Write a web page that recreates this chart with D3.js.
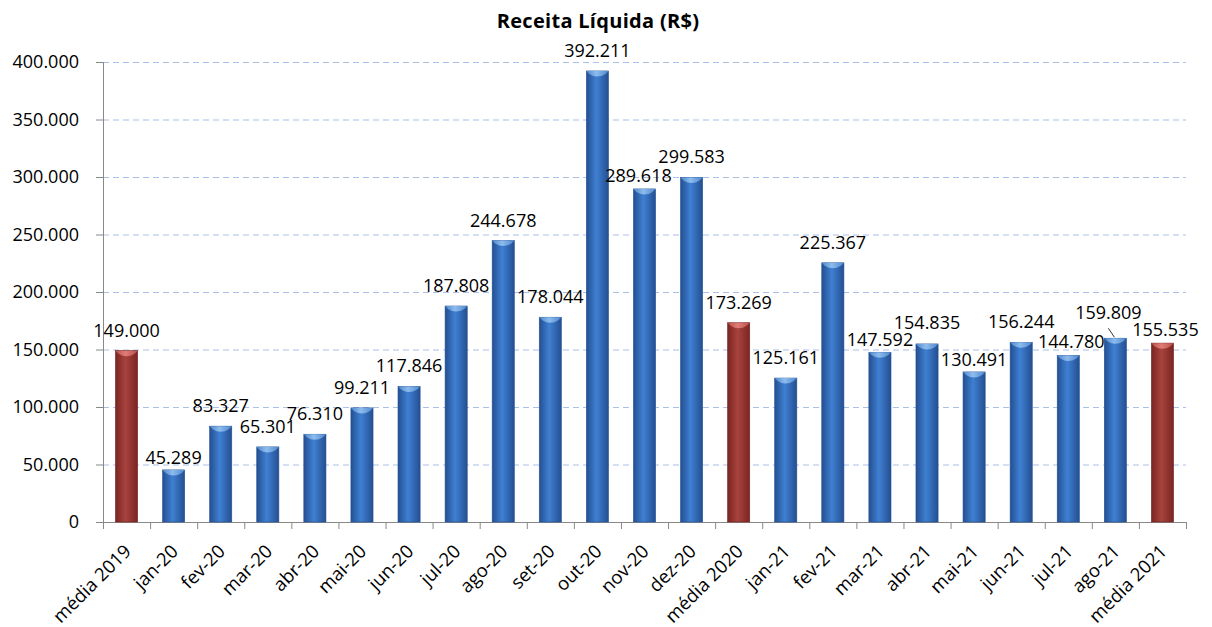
<!DOCTYPE html>
<html>
<head>
<meta charset="utf-8">
<script src="https://cdn.jsdelivr.net/npm/d3@7"></script>
<style>
  body { margin: 0; background: #fff; }
  text { font-family: "Open Sans", "Noto Sans", sans-serif; fill: #000; }
</style>
</head>
<body>
<div id="chart"></div>
<script>
var width = 1212;
var height = 627;

// data
var categories = ["média 2019", "jan-20", "fev-20", "mar-20", "abr-20", "mai-20", "jun-20",
    "jul-20", "ago-20", "set-20", "out-20", "nov-20", "dez-20", "média 2020",
    "jan-21", "fev-21", "mar-21", "abr-21", "mai-21", "jun-21", "jul-21", "ago-21", "média 2021"];
var values = [149000, 45289, 83327, 65301, 76310, 99211, 117846,
    187808, 244678, 178044, 392211, 289618, 299583, 173269,
    125161, 225367, 147592, 154835, 130491, 156244, 144780, 159809, 155535];
var isAverage = [true, false, false, false, false, false, false,
    false, false, false, false, false, false, true,
    false, false, false, false, false, false, false, false, true];
var yTicks = [0, 50000, 100000, 150000, 200000, 250000, 300000, 350000, 400000];

// label nudges (dx, dy) where the original labels were moved to avoid overlap
var labelShift = [[0,0],[0,8],[0,0],[0,0],[0,0],[0,0],[0,0],
    [0,0],[0,0],[0,0],[0,0],[-6,7],[0,0],[0,0],
    [0,0],[0,0],[0,8],[0,-1],[0,8],[0,0],[3,6],[-7,-5],[3,7]];

var margin = {top: 62, left: 103, right: 26, bottom: 105};

var svg = d3.select("#chart")
    .append("svg")
    .attr("width", width)
    .attr("height", height);

var defs = svg.append("defs");

function barGradient(id, edge, mid){
    var g = defs.append("linearGradient")
        .attr("id", id)
        .attr("x1", "0%").attr("x2", "100%")
        .attr("y1", "0%").attr("y2", "0%");
    g.append("stop").attr("offset", "0%").attr("stop-color", edge);
    g.append("stop").attr("offset", "45%").attr("stop-color", mid);
    g.append("stop").attr("offset", "100%").attr("stop-color", edge);
}
barGradient("blueGrad", "#244f92", "#3f80d2");
barGradient("redGrad", "#7a2522", "#a8433e");
barGradient("blueCap", "#4f88cc", "#8dbcee");
barGradient("redCap", "#b8504b", "#e07c76");

var x = d3.scaleBand()
    .domain(categories)
    .range([margin.left, width - margin.right])
    .paddingInner(0.53)
    .paddingOuter(0.265);

var xTicks = d3.scaleBand()
    .domain(categories)
    .range([margin.left, width - margin.right]);

var y = d3.scaleLinear()
    .domain([0, 400000])
    .range([height - margin.bottom, margin.top]);

var fmt = function(v){ return d3.format(",")(v).replace(/,/g, "."); };

// title
svg.append("text")
    .attr("x", 598)
    .attr("y", 28)
    .attr("text-anchor", "middle")
    .style("font-size", "20px")
    .style("font-weight", "bold")
    .style("letter-spacing", "0.3px")
    .text("Receita Líquida (R$)");

// gridlines
svg.append("g")
    .selectAll("line")
    .data(yTicks.filter(function(d){ return d > 0; }))
    .enter().append("line")
    .attr("x1", margin.left)
    .attr("x2", width - margin.right)
    .attr("y1", function(d){ return y(d) + 0.5; })
    .attr("y2", function(d){ return y(d) + 0.5; })
    .attr("stroke", "#a9c0e9")
    .attr("stroke-width", 1.2)
    .attr("stroke-dasharray", "6,4");

// y axis
var yAxis = svg.append("g")
    .attr("transform", "translate(" + margin.left + ",0)")
    .call(d3.axisLeft(y).tickValues(yTicks).tickSize(7).tickPadding(17).tickFormat(fmt));
yAxis.select(".domain").attr("stroke", "#888");
yAxis.selectAll(".tick line").attr("stroke", "#888");
yAxis.selectAll(".tick text")
    .style("font-size", "18px")
    .style("font-family", "\"Open Sans\", sans-serif");

// x axis
var xAxisY = y(0);
svg.append("line")
    .attr("x1", margin.left).attr("x2", width - margin.right)
    .attr("y1", xAxisY + 0.5).attr("y2", xAxisY + 0.5)
    .attr("stroke", "#888");
svg.append("g")
    .selectAll("line")
    .data(categories)
    .enter().append("line")
    .attr("x1", function(d){ return xTicks(d) + xTicks.bandwidth() + 0.5; })
    .attr("x2", function(d){ return xTicks(d) + xTicks.bandwidth() + 0.5; })
    .attr("y1", xAxisY)
    .attr("y2", xAxisY + 7)
    .attr("stroke", "#888");
svg.append("line")
    .attr("x1", margin.left + 0.5).attr("x2", margin.left + 0.5)
    .attr("y1", xAxisY).attr("y2", xAxisY + 7)
    .attr("stroke", "#888");

svg.append("g")
    .selectAll("text")
    .data(categories)
    .enter().append("text")
    .attr("transform", function(d){
        var cx = xTicks(d) + xTicks.bandwidth() / 2;
        return "translate(" + (cx + 1) + "," + (xAxisY + 26) + ") rotate(-45)";
    })
    .attr("text-anchor", "end")
    .attr("dy", "0.35em")
    .style("font-size", "18.5px")
    .text(function(d){ return d; });

// bars
var bars = svg.append("g")
    .selectAll(".bar")
    .data(values)
    .enter().append("g")
    .attr("class", "bar");

bars.append("rect")
    .attr("x", function(d, i){ return x(categories[i]); })
    .attr("y", function(d){ return y(d); })
    .attr("width", x.bandwidth())
    .attr("height", function(d){ return y(0) - y(d); })
    .attr("fill", function(d, i){ return isAverage[i] ? "url(#redGrad)" : "url(#blueGrad)"; })
    .attr("stroke", function(d, i){ return isAverage[i] ? "#6e2220" : "#24508f"; })
    .attr("stroke-width", 0.6);

bars.append("path")
    .attr("d", function(d, i){
        var x0 = x(categories[i]), w = x.bandwidth(), t = y(d);
        return "M" + x0 + "," + t + " L" + (x0 + w) + "," + t +
            " L" + (x0 + w - 3) + "," + (t + 3) +
            " Q" + (x0 + w / 2) + "," + (t + 8) + " " + (x0 + 3) + "," + (t + 3) + " Z";
    })
    .attr("fill", function(d, i){ return isAverage[i] ? "url(#redCap)" : "url(#blueCap)"; });

// value labels
svg.append("g")
    .selectAll("text")
    .data(values)
    .enter().append("text")
    .attr("x", function(d, i){ return x(categories[i]) + x.bandwidth() / 2 + labelShift[i][0]; })
    .attr("y", function(d, i){ return y(d) - 14 + labelShift[i][1]; })
    .attr("text-anchor", "middle")
    .style("font-size", "18px")
    .text(function(d){ return fmt(d); });

// leader line for ago-21
var li = categories.indexOf("ago-21");
svg.append("line")
    .attr("x1", x(categories[li]) + x.bandwidth() / 2 - 7)
    .attr("y1", y(values[li]) - 10)
    .attr("x2", x(categories[li]) + x.bandwidth() / 2 - 1)
    .attr("y2", y(values[li]) - 1)
    .attr("stroke", "#000")
    .attr("stroke-width", 0.8);
</script>
</body>
</html>
